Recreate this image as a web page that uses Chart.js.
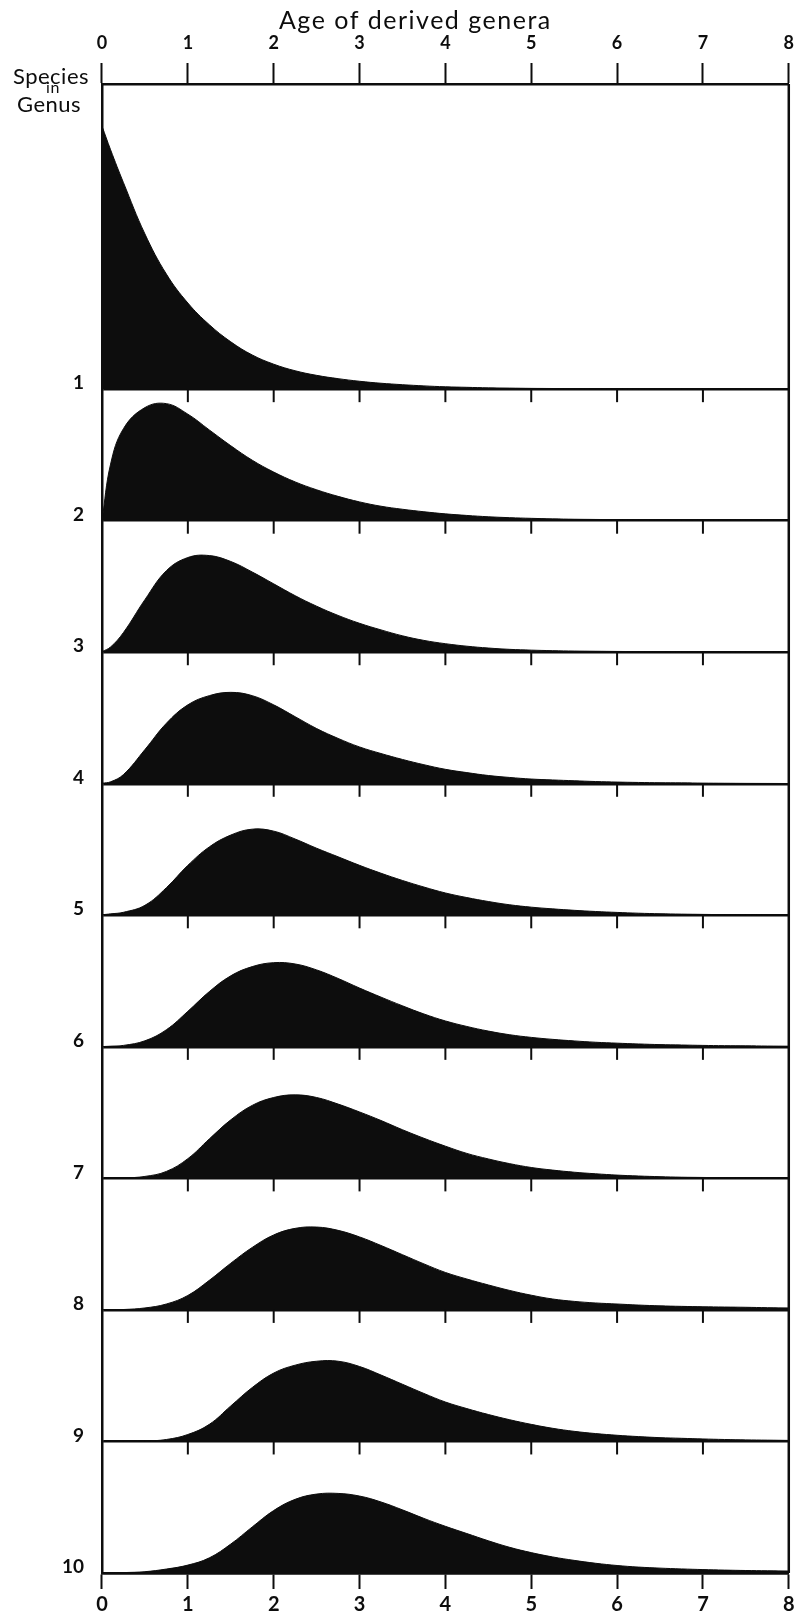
<!DOCTYPE html>
<html>
<head>
<meta charset="utf-8">
<title>Age of derived genera</title>
<script src="https://cdn.jsdelivr.net/npm/chart.js@4.4.1/dist/chart.umd.min.js"></script>
<style>
    html, body { margin: 0; padding: 0; background: #fff; }
    #wrap { position: relative; width: 803px; height: 1616px; }
</style>
</head>
<body>
<div id="wrap"><canvas id="chart"></canvas></div>
<script>
// age of derived genera (x) and relative frequency for each genus size
const ages = [0, 0.1, 0.25, 0.5, 0.75, 1, 1.25, 1.5, 1.75, 2, 2.25, 2.5, 2.75, 3, 3.25, 3.5, 3.75,
    4, 4.25, 4.5, 4.75, 5, 5.25, 5.5, 5.75, 6, 6.25, 6.5, 6.75, 7, 7.25, 7.5, 7.75, 8];

const species1 = [2.00, 1.82, 1.57, 1.18, 0.875, 0.655, 0.49, 0.36, 0.26, 0.19, 0.14, 0.105, 0.08, 0.06, 0.045, 0.034, 0.025,
    0.018, 0.014, 0.01, 0.008, 0.006, 0.005, 0.004, 0.0035, 0.003, 0.0025, 0.002, 0.0015, 0.001, 0.001, 0.001, 0.001, 0.001];
const species2 = [0, 0.43, 0.70, 0.86, 0.89, 0.81, 0.69, 0.57, 0.46, 0.37, 0.295, 0.235, 0.185, 0.143, 0.11, 0.087, 0.068,
    0.052, 0.04, 0.03, 0.023, 0.018, 0.014, 0.011, 0.0095, 0.008, 0.007, 0.006, 0.005, 0.004, 0.003, 0.0025, 0.002, 0.002];
const species3 = [0.004, 0.04, 0.15, 0.40, 0.62, 0.72, 0.735, 0.69, 0.61, 0.52, 0.43, 0.35, 0.28, 0.22, 0.17, 0.125, 0.09,
    0.065, 0.046, 0.032, 0.022, 0.016, 0.012, 0.009, 0.0075, 0.006, 0.005, 0.004, 0.003, 0.002, 0.002, 0.0015, 0.001, 0.001];
const species4 = [0.004, 0.015, 0.07, 0.26, 0.46, 0.60, 0.67, 0.695, 0.67, 0.60, 0.51, 0.42, 0.345, 0.28, 0.23, 0.185, 0.145,
    0.11, 0.085, 0.063, 0.048, 0.036, 0.029, 0.023, 0.017, 0.013, 0.01, 0.008, 0.007, 0.005, 0.004, 0.003, 0.0025, 0.002];
const species5 = [0.004, 0.011, 0.023, 0.076, 0.21, 0.38, 0.52, 0.61, 0.655, 0.64, 0.58, 0.51, 0.445, 0.38, 0.32, 0.265, 0.215,
    0.17, 0.135, 0.105, 0.08, 0.062, 0.049, 0.038, 0.029, 0.022, 0.016, 0.012, 0.009, 0.007, 0.005, 0.004, 0.003, 0.002];
const species6 = [0.002, 0.005, 0.011, 0.046, 0.13, 0.27, 0.42, 0.54, 0.61, 0.64, 0.63, 0.585, 0.52, 0.447, 0.378, 0.312, 0.25,
    0.197, 0.155, 0.12, 0.092, 0.072, 0.057, 0.045, 0.035, 0.028, 0.022, 0.017, 0.014, 0.011, 0.009, 0.008, 0.006, 0.005];
const species7 = [0, 0.001, 0.003, 0.015, 0.053, 0.15, 0.30, 0.445, 0.555, 0.615, 0.635, 0.615, 0.565, 0.505, 0.44, 0.37, 0.305,
    0.245, 0.19, 0.148, 0.112, 0.083, 0.063, 0.047, 0.035, 0.025, 0.018, 0.013, 0.009, 0.007, 0.005, 0.004, 0.003, 0.002];
const species8 = [0, 0.001, 0.003, 0.015, 0.045, 0.11, 0.225, 0.355, 0.475, 0.57, 0.62, 0.63, 0.605, 0.555, 0.49, 0.42, 0.35,
    0.285, 0.235, 0.19, 0.148, 0.112, 0.083, 0.065, 0.053, 0.045, 0.037, 0.031, 0.027, 0.024, 0.022, 0.02, 0.017, 0.015];
const species9 = [0, 0, 0.001, 0.003, 0.015, 0.053, 0.13, 0.27, 0.41, 0.52, 0.58, 0.61, 0.61, 0.57, 0.505, 0.435, 0.365,
    0.30, 0.25, 0.205, 0.165, 0.13, 0.10, 0.077, 0.06, 0.047, 0.037, 0.029, 0.024, 0.019, 0.015, 0.012, 0.01, 0.008];
const species10 = [0, 0.001, 0.003, 0.01, 0.03, 0.06, 0.115, 0.22, 0.35, 0.475, 0.56, 0.60, 0.605, 0.585, 0.54, 0.48, 0.415,
    0.355, 0.30, 0.245, 0.195, 0.155, 0.122, 0.096, 0.074, 0.057, 0.045, 0.037, 0.031, 0.026, 0.022, 0.019, 0.017, 0.015];

const panelLabels = ["1", "2", "3", "4", "5", "6", "7", "8", "9", "10"];
const series = [species1, species2, species3, species4, species5, species6, species7, species8, species9, species10];

const INK = "#0d0d0d";
const FONT = "Lato, 'DejaVu Sans', sans-serif";

// one stacked y axis per panel; the first panel is taller
const yScales = {};
series.forEach((_, i) => {
    const max = i === 0 ? 2.32 : 1;
    yScales["y" + (i + 1)] = {
        type: "linear",
        position: "left",
        stack: "panels",
        stackWeight: max,
        weight: series.length - i,
        min: 0,
        max,
        afterBuildTicks: s => { s.ticks = [{ value: 0 }]; },
        afterFit: s => { s.width = 58; },
        ticks: {
            callback: () => panelLabels[i],
            padding: 18,
            labelOffset: -6,
            color: INK,
            font: { family: FONT, size: 19, weight: "bold" }
        },
        grid: { color: INK, lineWidth: 2.5, drawTicks: false },
        border: { display: true, color: INK, width: 2.5 }
    };
});

const axisCommon = {
    type: "linear",
    min: 0,
    max: 8,
    ticks: { stepSize: 1, color: INK },
    grid: { drawOnChartArea: false, tickColor: INK, tickWidth: 2 },
    border: { display: true, color: INK, width: 2.5 }
};

const panelMarks = {
    id: "panelMarks",
    afterDatasetsDraw(chart) {
        const { ctx, chartArea, scales } = chart;
        const x = scales.x;
        ctx.save();
        ctx.strokeStyle = INK;
        ctx.lineCap = "butt";

        // right frame
        ctx.lineWidth = 2.5;
        ctx.beginPath();
        ctx.moveTo(chartArea.right, chartArea.top);
        ctx.lineTo(chartArea.right, chartArea.bottom);
        ctx.stroke();

        // small ticks hanging under each inner baseline
        ctx.lineWidth = 2;
        series.slice(0, -1).forEach((_, i) => {
            const y0 = scales["y" + (i + 1)].getPixelForValue(0);
            x.ticks.forEach(t => {
                if (t.value <= x.min || t.value >= x.max) return;
                const px = x.getPixelForValue(t.value);
                ctx.beginPath();
                ctx.moveTo(px, y0);
                ctx.lineTo(px, y0 + 13);
                ctx.stroke();
            });
        });
        ctx.restore();
    },
    afterDraw(chart) {
        const { ctx, scales } = chart;
        ctx.save();
        ctx.fillStyle = INK;
        ctx.textAlign = "center";
        ctx.textBaseline = "alphabetic";

        ctx.font = `25px ${FONT}`;
        ctx.letterSpacing = "1.5px";
        ctx.fillText("Age of derived genera", scales.x.getPixelForValue(3.65), 29);

        ctx.font = `22px ${FONT}`;
        ctx.letterSpacing = "0.5px";
        ctx.fillText("Species", 51, 84);
        ctx.font = `16px ${FONT}`;
        ctx.fillText("in", 53, 93);
        ctx.font = `22px ${FONT}`;
        ctx.fillText("Genus", 49, 112);
        ctx.restore();
    }
};

new Chart(document.getElementById("chart"), {
    type: "line",
    data: {
        datasets: series.map((vals, i) => ({
            label: "Species in genus " + panelLabels[i],
            data: ages.map((a, k) => ({ x: a, y: vals[k] })),
            xAxisID: "x",
            yAxisID: "y" + (i + 1),
            fill: "origin",
            backgroundColor: INK,
            borderColor: INK,
            borderWidth: 1,
            pointRadius: 0,
            tension: 0.4
        }))
    },
    options: {
        responsive: true,
        maintainAspectRatio: false,
        animation: false,
        events: [],
        layout: { padding: { left: 44, right: 0, top: 0, bottom: 0 } },
        plugins: { legend: { display: false }, tooltip: { enabled: false } },
        scales: {
            x: {
                ...axisCommon,
                position: "top",
                afterFit: s => { s.height = 84; },
                ticks: { ...axisCommon.ticks, padding: 9, font: { family: FONT, size: 18, weight: "bold" } },
                grid: { ...axisCommon.grid, tickLength: 21 }
            },
            x2: {
                ...axisCommon,
                position: "bottom",
                afterFit: s => { s.height = 43; },
                ticks: { ...axisCommon.ticks, padding: 4, font: { family: FONT, size: 20, weight: "bold" } },
                grid: { ...axisCommon.grid, tickLength: 16 }
            },
            ...yScales
        }
    },
    plugins: [panelMarks]
});
</script>
</body>
</html>
